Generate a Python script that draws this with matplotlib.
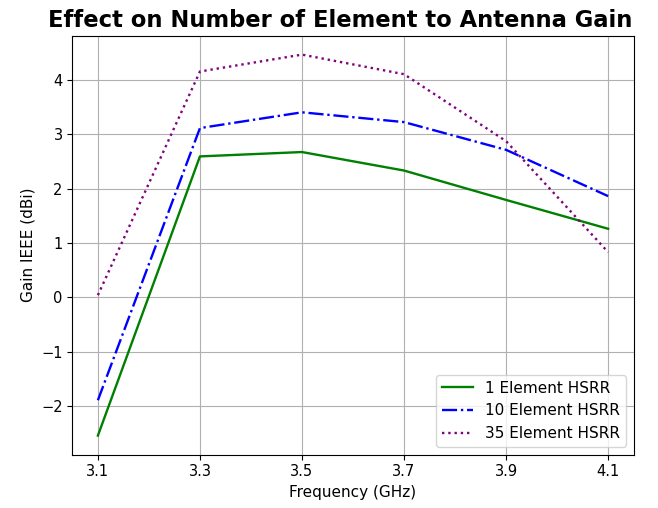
import matplotlib.pyplot as plt

freq = [3.1, 3.3, 3.5, 3.7, 3.9, 4.1]
gain_1 = [-2.54, 2.59, 2.67, 2.33, 1.79, 1.26]
gain_10 = [-1.89, 3.11, 3.40, 3.22, 2.71, 1.86]
gain_35 = [0.04, 4.15, 4.46, 4.10, 2.87, 0.83]

plt.rcParams['font.size'] = 11

fig, ax = plt.subplots(figsize=(6.58, 5.08), dpi=100)
fig.subplots_adjust(left=0.11, right=0.963, top=0.93, bottom=0.105)

ax.plot(freq, gain_1, color='green', linestyle='-', lw=1.7,
        label='1 Element HSRR')
ax.plot(freq, gain_10, color='blue', linestyle='-.', lw=1.7,
        label='10 Element HSRR')
ax.plot(freq, gain_35, color='purple', linestyle=':', lw=1.7,
        label='35 Element HSRR')

ax.set_xticks(freq)
ax.tick_params(labelsize=10.5)
ax.set_xlabel('Frequency (GHz)')
ax.set_ylabel('Gain IEEE (dBi)')
ax.set_title('Effect on Number of Element to Antenna Gain',
             fontsize=16.3, fontweight='bold', x=0.477)
ax.grid(True)
ax.legend(loc='lower right')

fig.savefig('out.png')
